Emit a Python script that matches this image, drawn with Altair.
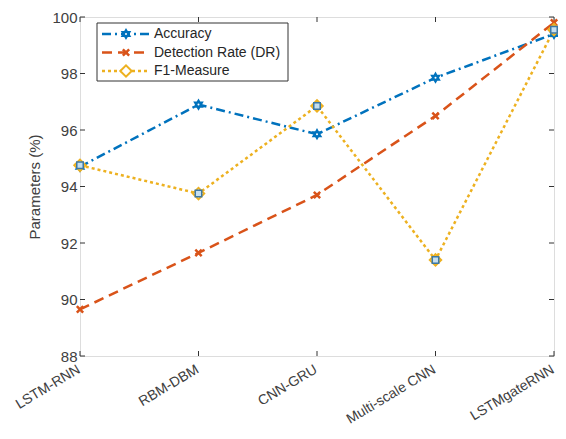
import altair as alt
import pandas as pd
import json

models = ["LSTM-RNN", "RBM-DBM", "CNN-GRU", "Multi-scale CNN", "LSTMgateRNN"]
series_names = ["Accuracy", "Detection Rate (DR)", "F1-Measure"]
accuracy = [94.7, 96.9, 95.85, 97.85, 99.4]
detection_rate = [89.65, 91.65, 93.7, 96.5, 99.8]
f1_measure = [94.75, 93.75, 96.85, 91.4, 99.55]
y_ticks = [88, 90, 92, 94, 96, 98, 100]

BLUE = "#0072BD"
ORANGE = "#D95319"
YELLOW = "#EDB120"
FRAME = "#333333"
TXT = "#404040"
W, H = 474, 339

rows = []
for name, vals in zip(series_names, [accuracy, detection_rate, f1_measure]):
    for i, (m, v) in enumerate(zip(models, vals)):
        rows.append({"idx": i, "model": m, "series": name, "value": v})
df = pd.DataFrame(rows)
leg_df = pd.DataFrame({"series": series_names, "row": [0, 1, 2]})
ytick_df = pd.DataFrame({"v": y_ticks})
xtick_df = pd.DataFrame({"idx": list(range(len(models)))})

STAR = ("M0,-1L0.29,-0.5L0.866,-0.5L0.577,0L0.866,0.5L0.29,0.5L0,1"
        "L-0.29,0.5L-0.866,0.5L-0.577,0L-0.866,-0.5L-0.29,-0.5Z")
XPATH = "M-1,-1L1,1M-1,1L1,-1"

xscale = alt.Scale(domain=[0, len(models) - 1], nice=False, zero=False)
yscale = alt.Scale(domain=[88, 100], nice=False, zero=False)
color_scale = alt.Scale(domain=series_names, range=[BLUE, ORANGE, YELLOW])
dash_scale = alt.Scale(domain=series_names, range=[[9, 4, 2, 4], [10, 6], [3, 3]])

label_expr = json.dumps(models) + "[round(datum.value)]"

X = alt.X("idx:Q", scale=xscale, title=None,
          axis=alt.Axis(values=list(range(len(models))), labelExpr=label_expr,
                        labelAngle=329, labelAlign="right", labelBaseline="top",
                        labelFontSize=14, labelColor=TXT, labelFont="Liberation Sans",
                        labelPadding=6, labelOffset=-5, ticks=False, domain=False, grid=False,
                        labelFlush=False, labelOverlap=False, labelBound=False))
Y = alt.Y("value:Q", scale=yscale, title="Parameters (%)",
          axis=alt.Axis(values=y_ticks, labelFontSize=15, labelColor=TXT,
                        labelFont="Liberation Sans", labelPadding=3,
                        titleFont="Liberation Sans", titleFontSize=15,
                        titleFontWeight="normal", titleColor=TXT, titlePadding=9,
                        ticks=False, domain=False, grid=False))

base = alt.Chart(df)
lines = base.mark_line(strokeWidth=2.5, strokeCap="butt").encode(
    x=X, y=Y,
    color=alt.Color("series:N", scale=color_scale, legend=None),
    strokeDash=alt.StrokeDash("series:N", scale=dash_scale, legend=None),
    detail="series:N",
)

Xs = alt.X("idx:Q", scale=xscale)
Ys = alt.Y("value:Q", scale=yscale)

def flt(name):
    return base.transform_filter(alt.datum.series == name)

star = flt("Accuracy").mark_point(shape=STAR, filled=True, color=BLUE, size=150, opacity=1).encode(x=Xs, y=Ys)
star_dot = flt("Accuracy").mark_point(shape="circle", filled=True, color="white", size=4, opacity=1).encode(x=Xs, y=Ys)
xm = flt("Detection Rate (DR)").mark_point(shape=XPATH, color=ORANGE, strokeWidth=2.5, size=40, opacity=1).encode(x=Xs, y=Ys)
dia = flt("F1-Measure").mark_point(shape="diamond", fill="white", stroke=YELLOW, strokeWidth=2, size=130, opacity=1, filled=False).encode(x=Xs, y=Ys)
sq = flt("F1-Measure").mark_square(size=42, fill="#c5dff0", stroke="#3d78a3", strokeWidth=1.5, opacity=1).encode(x=Xs, y=Ys)

# inward ticks
tick_y_left = alt.Chart(ytick_df).mark_rule(color=FRAME, strokeWidth=1).encode(
    y=alt.Y("v:Q", scale=yscale), x=alt.value(0), x2=alt.value(5))
tick_y_right = alt.Chart(ytick_df).mark_rule(color=FRAME, strokeWidth=1).encode(
    y=alt.Y("v:Q", scale=yscale), x=alt.value(W - 5), x2=alt.value(W))
tick_x_bot = alt.Chart(xtick_df).mark_rule(color=FRAME, strokeWidth=1).encode(
    x=alt.X("idx:Q", scale=xscale), y=alt.value(H - 5), y2=alt.value(H))
tick_x_top = alt.Chart(xtick_df).mark_rule(color=FRAME, strokeWidth=1).encode(
    x=alt.X("idx:Q", scale=xscale), y=alt.value(0), y2=alt.value(5))

# legend
leg_base = alt.Chart(leg_df).transform_calculate(ly="17 + datum.row * 18.5")
LY = alt.Y("ly:Q", scale=None, axis=None)
leg_box = alt.Chart(pd.DataFrame({"a": [0]})).mark_rect(
    fill="white", stroke=FRAME, strokeWidth=1).encode(
    x=alt.value(17), x2=alt.value(208), y=alt.value(6), y2=alt.value(64))
leg_lines = leg_base.mark_rule(strokeWidth=2.5, strokeCap="butt").encode(
    x=alt.value(22), x2=alt.value(70), y=LY,
    color=alt.Color("series:N", scale=color_scale, legend=None),
    strokeDash=alt.StrokeDash("series:N", scale=dash_scale, legend=None))

def lflt(name):
    return leg_base.transform_filter(alt.datum.series == name)

LX = alt.value(46)
l_star = lflt("Accuracy").mark_point(shape=STAR, filled=True, color=BLUE, size=150, opacity=1).encode(x=LX, y=LY)
l_dot = lflt("Accuracy").mark_point(shape="circle", filled=True, color="white", size=4, opacity=1).encode(x=LX, y=LY)
l_x = lflt("Detection Rate (DR)").mark_point(shape=XPATH, color=ORANGE, strokeWidth=2.5, size=40, opacity=1).encode(x=LX, y=LY)
l_dia = lflt("F1-Measure").mark_point(shape="diamond", fill="white", stroke=YELLOW, strokeWidth=2, size=130, opacity=1, filled=False).encode(x=LX, y=LY)
l_text = leg_base.mark_text(align="left", baseline="middle", fontSize=14,
                            font="Liberation Sans", color="#262626").encode(
    x=alt.value(74), y=LY, text="series:N")

chart = alt.layer(
    lines, tick_y_left, tick_y_right, tick_x_bot, tick_x_top,
    star, star_dot, xm, dia, sq,
    leg_box, leg_lines, l_star, l_dot, l_x, l_dia, l_text,
).properties(
    width=W, height=H,
    autosize=alt.AutoSizeParams(type="none"),
    padding={"left": 72, "top": 9, "right": 4, "bottom": 80},
).configure_view(stroke=FRAME, strokeWidth=1.2).configure(background="white")

chart.save("out.html", embed_options={"renderer": "svg", "actions": False})
